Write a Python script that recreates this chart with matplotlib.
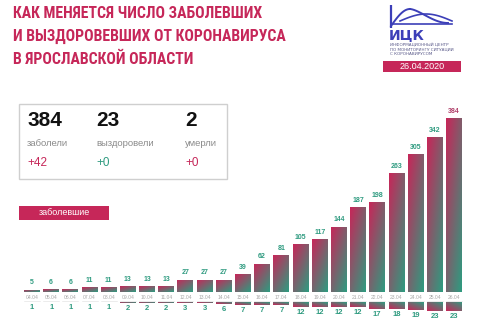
import numpy as np
import matplotlib
matplotlib.use("Agg")
import matplotlib.pyplot as plt
from matplotlib.patches import Rectangle
from matplotlib.colors import LinearSegmentedColormap

# ── Data ─────────────────────────────────────────────────────────────────────
dates = ["04.04", "05.04", "06.04", "07.04", "08.04", "09.04", "10.04", "11.04",
         "12.04", "13.04", "14.04", "15.04", "16.04", "17.04", "18.04", "19.04",
         "20.04", "21.04", "22.04", "23.04", "24.04", "25.04", "26.04"]
cases = [5, 6, 6, 11, 11, 13, 13, 13, 27, 27, 27, 39, 62, 81, 105, 117,
         144, 187, 198, 263, 305, 342, 384]
recovered = [1, 1, 1, 1, 1, 2, 2, 2, 3, 3, 6, 7, 7, 7, 12, 12, 12, 12,
             17, 18, 19, 23, 23]

title_lines = ["КАК МЕНЯЕТСЯ ЧИСЛО ЗАБОЛЕВШИХ",
               "И ВЫЗДОРОВЕВШИХ ОТ КОРОНАВИРУСА",
               "В ЯРОСЛАВСКОЙ ОБЛАСТИ"]
stat_values = ["384", "23", "2"]
stat_labels = ["заболели", "выздоровели", "умерли"]
stat_deltas = ["+42", "+0", "+0"]
report_date = "26.04.2020"

CRIMSON = "#C62759"
TEAL = "#2F9B80"
BLUE = "#3C3FB8"
GRAD = LinearSegmentedColormap.from_list("g", [CRIMSON, TEAL])

W, H = 480, 320
fig = plt.figure(figsize=(W / 100, H / 100), dpi=100)
fig.patch.set_facecolor("white")

def fx(px):
    return px / W

def fy(py):
    return 1 - py / H

# gradient image: top-left crimson -> bottom-right teal
gy, gx = np.mgrid[0:1:40j, 0:1:20j]
grad_img = 0.45 * gx + 0.55 * gy

def grad_bars(ax, x, h, width, bottom=0):
    for xi, hi in zip(x, h):
        r = Rectangle((xi - width / 2, bottom), width, hi, facecolor="none",
                      edgecolor="none")
        ax.add_patch(r)
        im = ax.imshow(grad_img, cmap=GRAD, vmin=0, vmax=1, aspect="auto",
                       extent=(xi - width / 2, xi + width / 2, bottom, bottom + hi),
                       origin="upper", interpolation="bilinear", zorder=2)
        im.set_clip_path(r)

# ── Cases bars ───────────────────────────────────────────────────────────────
x = np.arange(len(cases))
ax = fig.add_axes([fx(22.4), fy(292), fx(463.6) - fx(22.4), fy(111) - fy(292)])
ax.set_xlim(-0.5, len(cases) - 0.5)
ax.set_ylim(0, 400)
ax.axis("off")
grad_bars(ax, x, cases, 0.83)
for xi, v in zip(x, cases):
    ax.annotate(str(v), (xi, v), xytext=(0, 2.5), textcoords="offset points",
                ha="center", va="bottom", fontsize=5, fontweight="bold",
                color="#B0406A" if v == max(cases) else TEAL,
                family="Liberation Sans")

# ── Recovered bars (hanging below the dates) ─────────────────────────────────
ax2 = fig.add_axes([fx(22.4), fy(330), fx(463.6) - fx(22.4), fy(302) - fy(330)])
ax2.set_xlim(-0.5, len(cases) - 0.5)
ax2.set_ylim(70, 0)
ax2.axis("off")
grad_bars(ax2, x, recovered, 0.83)
for xi, v in zip(x, recovered):
    ax2.annotate(str(v), (xi, v), xytext=(0, -1.5), textcoords="offset points",
                 ha="center", va="top", fontsize=5.5, fontweight="bold",
                 color=TEAL, family="Liberation Sans")

# ── Decorations in pixel space ───────────────────────────────────────────────
deco = fig.add_axes([0, 0, 1, 1], zorder=-1)
deco.set_xlim(0, W)
deco.set_ylim(H, 0)
deco.axis("off")

for xi, d in zip(x, dates):
    px = 32 + xi * (422 / 22)
    deco.text(px, 297.5, d, ha="center", va="center", fontsize=3.6,
              color="#A8A8A8", family="Liberation Sans")
    deco.plot([px - 8, px + 8], [300.5, 300.5], color="#DDDDDD", lw=0.4)

title_font = ["Roboto Condensed", "Roboto", "DejaVu Sans"]
for i, line in enumerate(title_lines):
    deco.text(13, 13.5 + i * 23, line, ha="left", va="center", fontsize=11.3,
              fontweight="bold", color=CRIMSON, family=title_font)

# logo
t = np.linspace(0, 1, 60)
deco.plot([391, 391], [5, 28], color=BLUE, lw=1.6, solid_capstyle="butt")
deco.plot(391 + t * 19, 26 - 17 * np.sin(t * np.pi / 2), color=BLUE, lw=1.4)
deco.plot(410 + t * 38, 9 + 14 * np.sin(t * np.pi / 2) ** 1.5, color=BLUE, lw=1.4)
deco.plot(400 + t * 52, 21 - 7 * np.sin(t * np.pi), color=BLUE, lw=1.2)
deco.plot([391, 452], [23.5, 23.5], color=BLUE, lw=1.2)
deco.text(389, 35, "ИЦК", ha="left", va="center", fontsize=10,
          fontweight="bold", color=BLUE, family="DejaVu Sans")
for i, s in enumerate(["ИНФОРМАЦИОННЫЙ ЦЕНТР", "ПО МОНИТОРИНГУ СИТУАЦИИ",
                       "С КОРОНАВИРУСОМ"]):
    deco.text(390, 45 + i * 4.6, s, ha="left", va="center", fontsize=3,
              color="#5A5A8A", family="DejaVu Sans")
deco.add_patch(Rectangle((383, 61), 78, 11, facecolor=CRIMSON, edgecolor="none"))
deco.text(422, 66.5, report_date, ha="center", va="center", fontsize=6.5,
          color="white", family="Liberation Sans")

# stats box
deco.add_patch(Rectangle((19, 104), 208, 75, facecolor="white",
                         edgecolor="#CFCFCF", lw=1.0))
for cx, val, lab, dl, dc in zip([27, 96, 185], stat_values, stat_labels,
                                stat_deltas, [CRIMSON, TEAL, CRIMSON]):
    deco.text(cx, 121, val, ha="left", va="center", fontsize=15,
              fontweight="bold", color="#111111", family="Liberation Sans")
    deco.text(cx, 144, lab, ha="left", va="center", fontsize=6.8,
              color="#8A8A8A", family="Liberation Sans")
    deco.text(cx, 163, dl, ha="left", va="center", fontsize=8.5,
              color=dc, family="Liberation Sans")

# legend button
deco.add_patch(Rectangle((19, 206), 90, 13.5, facecolor=CRIMSON, edgecolor="none"))
deco.text(64, 212.8, "заболевшие", ha="center", va="center", fontsize=6.5,
          color="white", family="Liberation Sans")

fig.savefig("out.png", dpi=100)
